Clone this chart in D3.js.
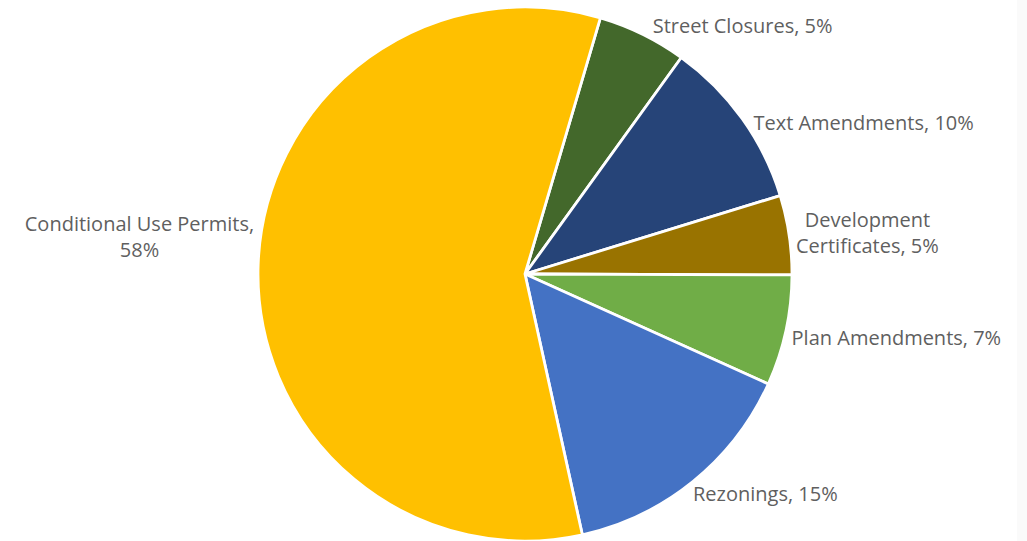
<!DOCTYPE html>
<html><head><meta charset="utf-8">
<script src="https://cdn.jsdelivr.net/npm/d3@7"></script>
<style>
html,body{margin:0;padding:0;background:#fff;}
svg{display:block;}
</style></head>
<body>
<svg id="chart" width="1027" height="541"></svg>
<script>
// Data (clockwise from the top-right slice)
const categories = ["Street Closures", "Text Amendments", "Development Certificates", "Plan Amendments", "Rezonings", "Conditional Use Permits"];
const values = [5.4, 10.3, 4.8, 6.7, 14.8, 58.0];
const labelLines = [["Street Closures, 5%"], ["Text Amendments, 10%"], ["Development", "Certificates, 5%"], ["Plan Amendments, 7%"], ["Rezonings, 15%"], ["Conditional Use Permits,", "58%"]];
const colors = ["#43682B", "#264478", "#997300", "#70AD47", "#4472C4", "#FFC000"];
// label nudges (layout only)
const nudgeX = [4, 0, -7, -8, -9, 10];
const nudgeY = [4, 13, 0, 4, 2, -27];

const W = 1027, H = 541;
const cx = 525, cy = 274, R = 267;
const svg = d3.select("#chart");
svg.append("rect").attr("x", 1017).attr("y", 0).attr("width", 10).attr("height", H).attr("fill", "#fafafa");

const startDeg = 16.4;
const pie = d3.pie().sort(null).value(d => d)
  .startAngle(startDeg * Math.PI / 180)
  .endAngle(startDeg * Math.PI / 180 + 2 * Math.PI);
const arcs = pie(values);
const arc = d3.arc().innerRadius(0).outerRadius(R);
const color = d3.scaleOrdinal().domain(categories).range(colors);

const g = svg.append("g").attr("transform", `translate(${cx},${cy})`);
g.selectAll("path").data(arcs).join("path")
  .attr("d", arc)
  .attr("fill", (d, i) => color(categories[i]))
  .attr("stroke", "#fff")
  .attr("stroke-width", 2.8)
  .attr("stroke-linejoin", "round");

const fs = 20, lh = 26;
const lg = svg.append("g");
arcs.forEach((d, i) => {
  const mid = (d.startAngle + d.endAngle) / 2;
  const rr = R + 14;
  const px = cx + rr * Math.sin(mid) + nudgeX[i];
  const py = cy - rr * Math.cos(mid) + nudgeY[i];
  const right = Math.sin(mid) >= 0;
  const lines = labelLines[i];
  const t = lg.append("text")
    .attr("font-family", "'Open Sans', sans-serif")
    .attr("font-size", fs)
    .attr("fill", "#5f5f5f");
  const tsp = lines.map((ln, k) => t.append("tspan").text(ln)
    .attr("y", py + (k - (lines.length - 1) / 2) * lh)
    .attr("dy", "0.35em"));
  const widths = tsp.map(s => s.node().getComputedTextLength());
  const bw = d3.max(widths);
  const centerX = right ? px + bw / 2 : px - bw / 2;
  tsp.forEach(s => s.attr("x", centerX).attr("text-anchor", "middle"));
});
</script>
</body></html>
